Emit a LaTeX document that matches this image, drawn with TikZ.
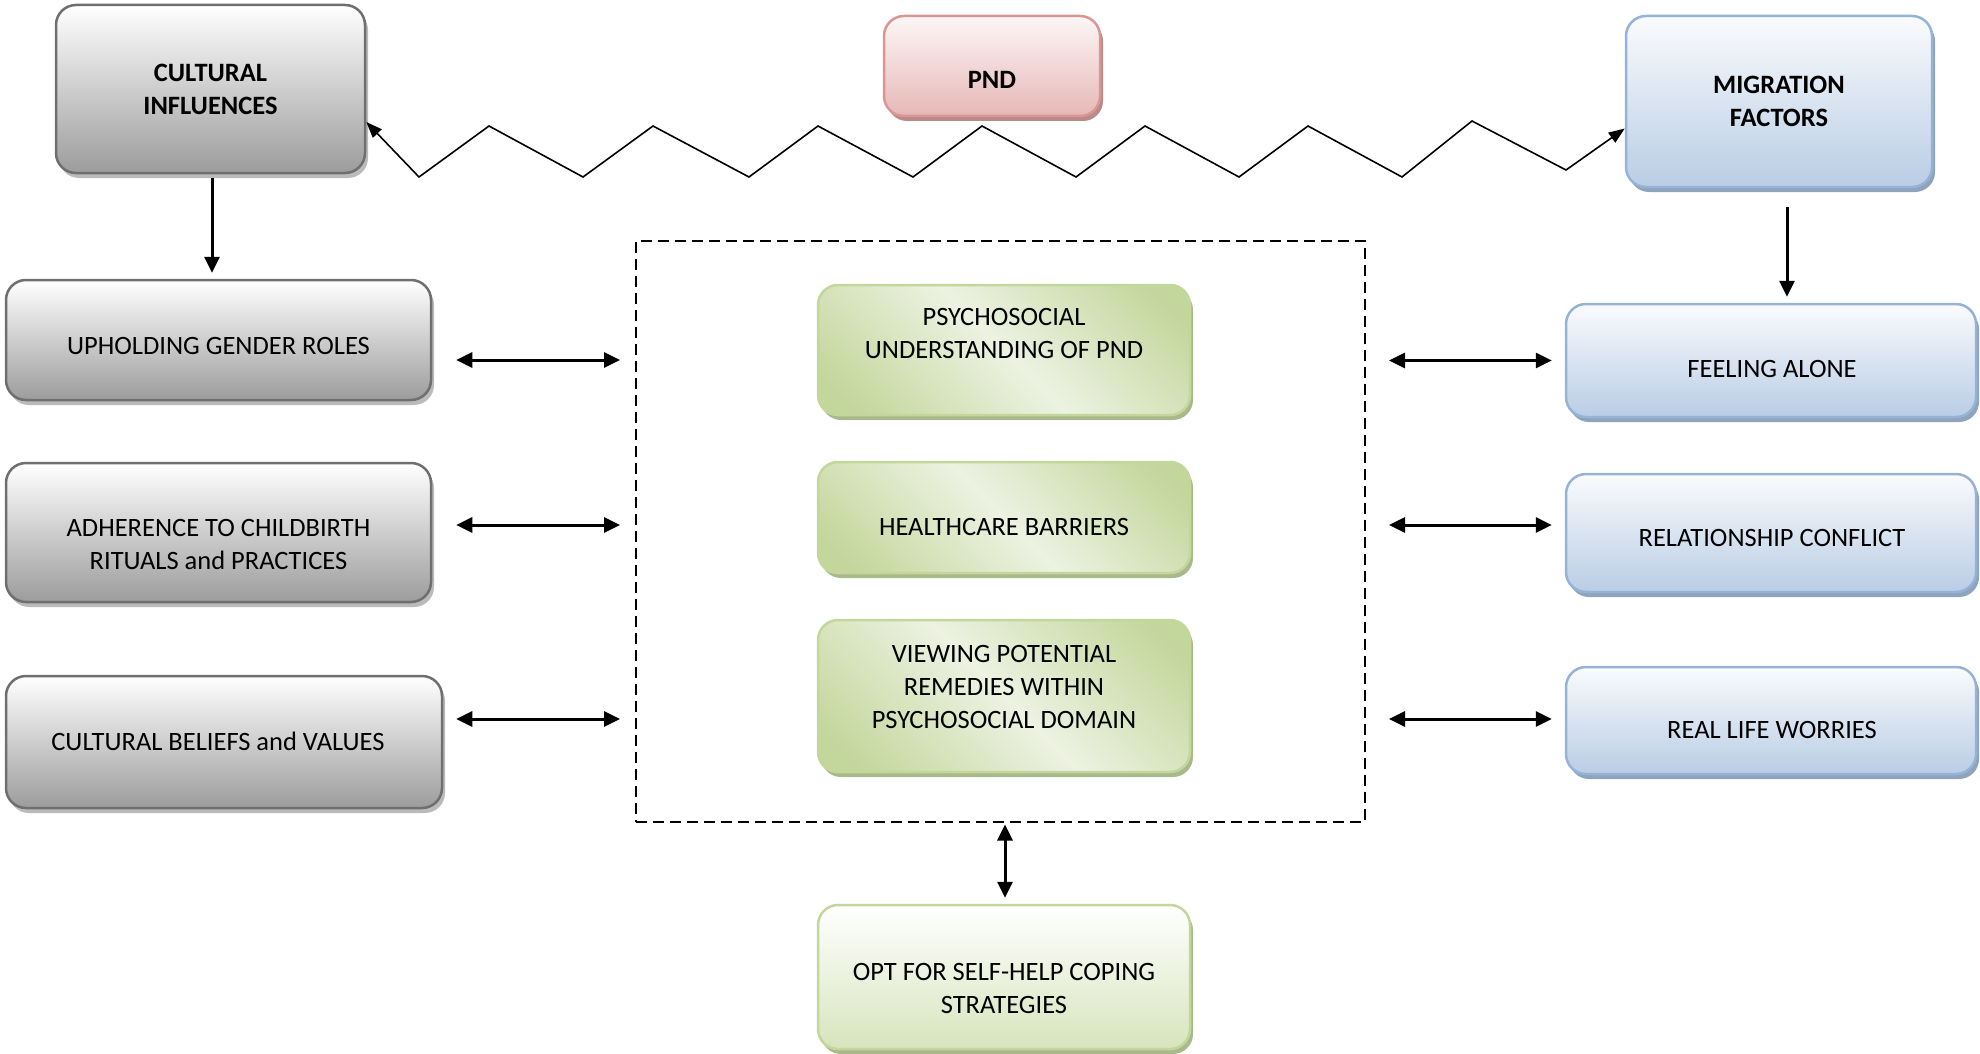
\documentclass[tikz,border=0pt]{standalone}
\usepackage{fontspec}
\setmainfont{Carlito}
\usetikzlibrary{arrows.meta,shadows,calc}

\definecolor{grayline}{HTML}{6F6F6F}
\definecolor{graybot}{HTML}{9C9C9C}
\definecolor{grayshadow}{HTML}{BBBBBB}
\definecolor{blueline}{HTML}{95B3D7}
\definecolor{bluebot}{HTML}{B9CDE5}
\definecolor{bluetop}{HTML}{FAFBFD}
\definecolor{blueshadow}{HTML}{8FA3BC}
\definecolor{pinkline}{HTML}{D99694}
\definecolor{pinkbot}{HTML}{E6B8B7}
\definecolor{pinktop}{HTML}{FDF6F6}
\definecolor{pinkshadow}{HTML}{B98A89}
\definecolor{greenline}{HTML}{C3D69B}
\definecolor{greendark}{HTML}{C3D69B}
\definecolor{greenlight}{HTML}{EDF2E2}
\definecolor{greenbot}{HTML}{D7E4BD}
\definecolor{greenshadow}{HTML}{A9B98C}

\pgfdeclarehorizontalshading{greenband}{100bp}{color(0bp)=(greendark); color(20bp)=(greendark); color(50bp)=(greenlight); color(80bp)=(greendark); color(100bp)=(greendark)}

\tikzset{
  box/.style={rectangle, rounded corners=20pt, line width=2.5pt, inner sep=0pt},
  graybox/.style={box, draw=grayline, top color=white, bottom color=graybot,
    drop shadow={shadow xshift=3pt, shadow yshift=-5pt, fill=grayshadow, opacity=1}},
  bluebox/.style={box, draw=blueline, top color=bluetop, bottom color=bluebot,
    drop shadow={shadow xshift=3pt, shadow yshift=-5pt, fill=blueshadow, opacity=1}},
  pinkbox/.style={box, draw=pinkline, top color=pinktop, bottom color=pinkbot,
    drop shadow={shadow xshift=3pt, shadow yshift=-5pt, fill=pinkshadow, opacity=1}},
  greenbox/.style={box, draw=greenline, shading=greenband, shading angle=45,
    drop shadow={shadow xshift=3pt, shadow yshift=-5pt, fill=greenshadow, opacity=1}},
  paleg/.style={box, draw=greenline, top color=white, bottom color=greenbot,
    drop shadow={shadow xshift=3pt, shadow yshift=-5pt, fill=greenshadow, opacity=1}},
  txt/.style={align=center, inner sep=0pt},
  btxt/.style={txt, font=\fontsize{26.5}{33}\selectfont\bfseries},
  tip/.style={Triangle[length=16pt,width=15pt]},
  arr/.style={line width=3pt, -{Triangle[length=16pt,width=15pt]}},
  dbl/.style={line width=3pt, {Triangle[length=16pt,width=15pt]}-{Triangle[length=16pt,width=15pt]}},
  zig/.style={line width=1.6pt, line join=miter, {Triangle[length=16pt,width=12pt]}-{Triangle[length=16pt,width=12pt]}},
  frame/.style={rectangle, draw, line width=2pt, dash pattern=on 11pt off 6pt, inner sep=0pt}
}

\begin{document}
\begin{tikzpicture}[x=1pt, y=-1pt, font=\fontsize{26.5}{33}\selectfont]
\useasboundingbox (0,0) rectangle (1980,1054);

% top row
\node[graybox, minimum width=309pt, minimum height=168pt] (cult) at (210.5,89) {};
\node[btxt] (cult-t) at (210.5,89) {CULTURAL\\INFLUENCES};
\node[pinkbox, minimum width=216pt, minimum height=100pt] (pnd) at (992,66) {};
\node[btxt] (pnd-t) at (992,80) {PND};
\node[bluebox, minimum width=306pt, minimum height=171pt] (migr) at (1779,101.5) {};
\node[btxt] (migr-t) at (1779,101) {MIGRATION\\FACTORS};

% left column
\node[graybox, minimum width=425pt, minimum height=120pt] (uphold) at (218.5,340) {};
\node[txt] (uphold-t) at (218.5,346) {UPHOLDING GENDER ROLES};
\node[graybox, minimum width=425pt, minimum height=139pt] (adher) at (218.5,532.5) {};
\node[txt] (adher-t) at (218.5,544) {ADHERENCE TO CHILDBIRTH\\RITUALS and PRACTICES};
\node[graybox, minimum width=436pt, minimum height=132pt] (belief) at (224,742) {};
\node[txt] (belief-t) at (218,741) {CULTURAL BELIEFS and VALUES};

% central group
\node[frame, minimum width=729pt, minimum height=581pt] (dash) at (1000.5,531.5) {};
\node[greenbox, minimum width=372pt, minimum height=130pt] (psych) at (1004,350) {};
\node[txt] (psych-t) at (1004,333) {PSYCHOSOCIAL\\UNDERSTANDING OF PND};
\node[greenbox, minimum width=372pt, minimum height=111pt] (health) at (1004,517.5) {};
\node[txt] (health-t) at (1004,527) {HEALTHCARE BARRIERS};
\node[greenbox, minimum width=372pt, minimum height=152pt] (view) at (1004,696) {};
\node[txt] (view-t) at (1004,687) {VIEWING POTENTIAL\\REMEDIES WITHIN\\PSYCHOSOCIAL DOMAIN};
\node[paleg, minimum width=372pt, minimum height=144pt] (opt) at (1004,977) {};
\node[txt] (opt-t) at (1004,988) {OPT FOR SELF-HELP COPING\\STRATEGIES};

% right column
\node[bluebox, minimum width=410pt, minimum height=113pt] (feel) at (1771,360.5) {};
\node[txt] (feel-t) at (1772,369) {FEELING ALONE};
\node[bluebox, minimum width=410pt, minimum height=118pt] (relat) at (1771,533) {};
\node[txt] (relat-t) at (1772,538) {RELATIONSHIP CONFLICT};
\node[bluebox, minimum width=410pt, minimum height=107pt] (real) at (1771,720.5) {};
\node[txt] (real-t) at (1772,730) {REAL LIFE WORRIES};

% zigzag link between the two factor groups
\draw[zig] ($(cult.east)+(0,33)$) -- (419,177) -- (489,126) -- (583,177) -- (653,126)
  -- (749,177) -- (818,126) -- (913,177) -- (982,126) -- (1076,177) -- (1145,126)
  -- (1239,177) -- (1308,126) -- (1402,177) -- (1472,121) -- (1566,170)
  -- ($(migr.west)+(0,27)$);

% downward arrows
\draw[arr] ($(cult.south)+(1.5,4)$) -- ($(cult.south |- uphold.north)+(1.5,-6)$);
\draw[arr] ($(migr.south)+(8,19)$) -- ($(migr.south |- feel.north)+(8,-6)$);

% left two-way arrows
\draw[dbl] ($(uphold.east)+(24,20)$) -- ($(dash.west |- uphold.east)+(-15,20)$);
\draw[dbl] ($(adher.east)+(24,-7.5)$) -- ($(dash.west |- adher.east)+(-15,-7.5)$);
\draw[dbl] ($(belief.east)+(13,-23)$) -- ($(dash.west |- belief.east)+(-15,-23)$);

% right two-way arrows
\draw[dbl] ($(dash.east |- feel.west)+(23,0)$) -- ($(feel.west)+(-13,0)$);
\draw[dbl] ($(dash.east |- relat.west)+(23,-8)$) -- ($(relat.west)+(-13,-8)$);
\draw[dbl] ($(dash.east |- real.west)+(23,-1.5)$) -- ($(real.west)+(-13,-1.5)$);

% link to coping strategies
\draw[dbl] ($(dash.south -| opt.north)+(1,1.5)$) -- ($(opt.north)+(1,-6)$);
\end{tikzpicture}
\end{document}
